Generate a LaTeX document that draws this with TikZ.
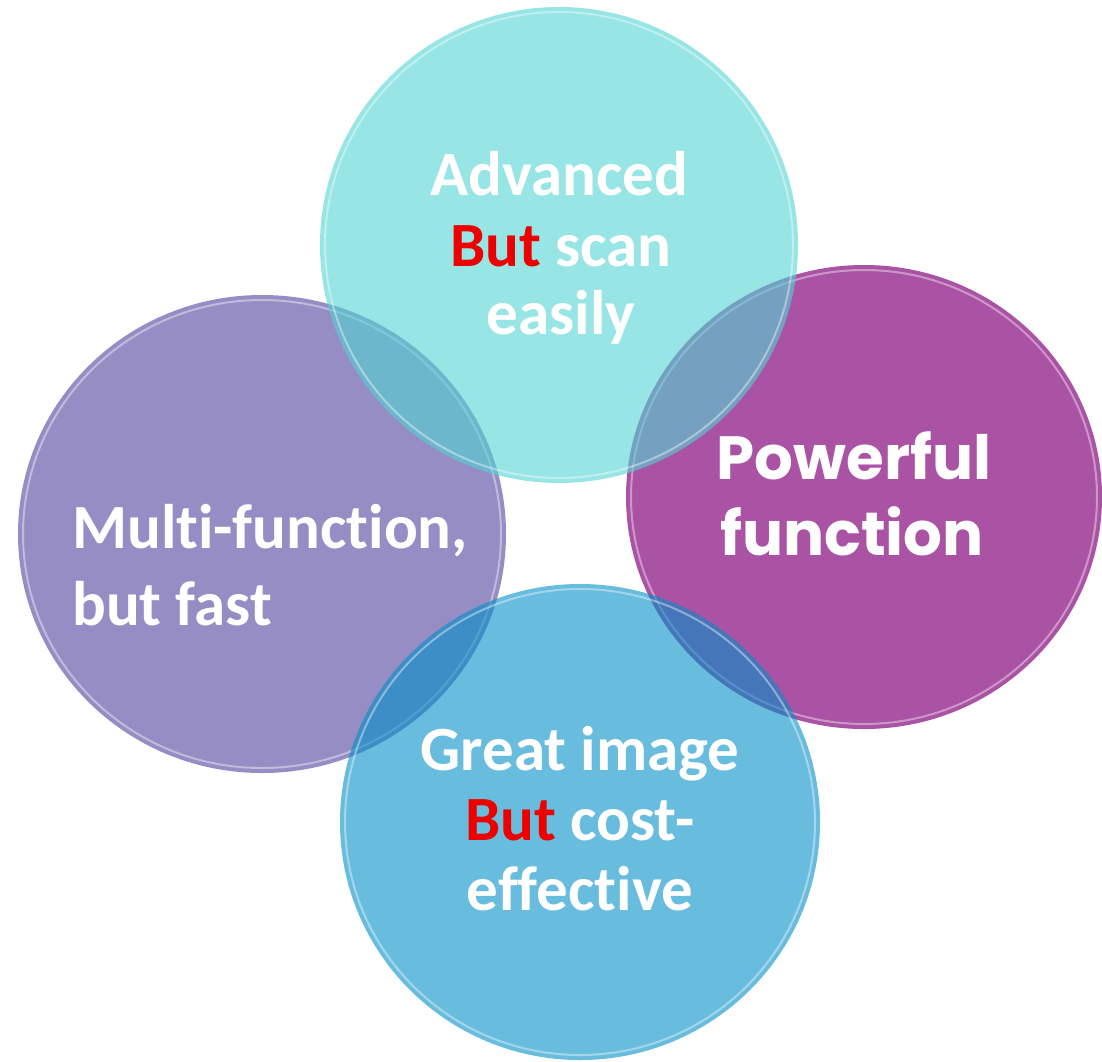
\documentclass[tikz,border=0pt]{standalone}
\usepackage{fontspec}
\setmainfont{Carlito}[Ligatures=NoCommon]
\newfontfamily\popfont{Poppins}
\usetikzlibrary{shapes.geometric}
\definecolor{cTop}{RGB}{82,212,212}
\definecolor{cLeft}{RGB}{150,141,196}
\definecolor{cRight}{RGB}{170,82,164}
\definecolor{cBot}{RGB}{3,143,200}
\definecolor{cRed}{RGB}{236,0,0}
\begin{document}
\begin{tikzpicture}[x=1pt,y=-1pt,
  bubble/.style={ellipse, inner sep=0pt, draw=none},
  rim/.style={draw=white, draw opacity=0.4, line width=2pt},
  lbl/.style={inner sep=0pt, text=white, font=\bfseries\fontsize{63}{70}\selectfont},
  plbl/.style={inner sep=0pt, text=white, font=\popfont\bfseries\fontsize{61}{70}\selectfont}]
\useasboundingbox (0,0) rectangle (1102,1061);
% circles
\node[bubble, fill=cLeft, minimum width=488pt, minimum height=478pt] (left) at (262,534) {};
\draw[rim] (left.center) ellipse [x radius=239, y radius=234];
\node[bubble, fill=cRight, minimum width=476pt, minimum height=464pt] (right) at (864,497) {};
\draw[rim] (right.center) ellipse [x radius=233, y radius=227];
\node[bubble, fill=cTop, fill opacity=0.6, minimum width=478pt, minimum height=476pt] (top) at (559,245) {};
\draw[rim] (top.center) ellipse [x radius=234, y radius=233];
\node[bubble, fill=cBot, fill opacity=0.6, minimum width=480pt, minimum height=476pt] (bot) at (580,822) {};
\draw[rim] (bot.center) ellipse [x radius=235, y radius=233];
% texts
\node[lbl, anchor=base] (t1) at (559,195) {Advanced};
\node[lbl, anchor=base] (t2) at (561,266) {\textcolor{cRed}{But} scan};
\node[lbl, anchor=base] (t3) at (561,334) {easily};
\node[lbl, anchor=base west] (l1) at (72,548) {Multi-function,};
\node[lbl, anchor=base west] (l2) at (72,625) {but fast};
\node[plbl, anchor=base] (r1) at (854,479) {Powerful};
\node[plbl, anchor=base] (r2) at (852,555) {function};
\node[lbl, anchor=base] (b1) at (580,770) {Great image};
\node[lbl, anchor=base] (b2) at (580,840) {\textcolor{cRed}{But} cost-};
\node[lbl, anchor=base] (b3) at (580,910) {effective};
\end{tikzpicture}
\end{document}
